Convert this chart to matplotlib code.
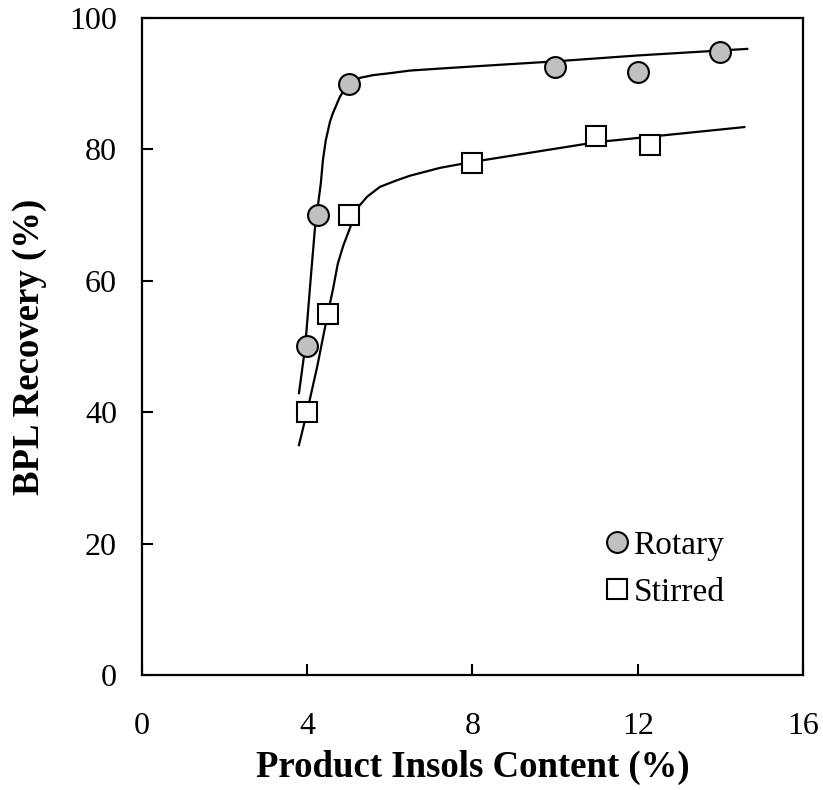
import matplotlib.pyplot as plt

plt.rcParams['font.family'] = ['Liberation Serif', 'DejaVu Serif']

# measured points
rotary_x = [4.0, 4.25, 5.0, 10.0, 12.0, 14.0]
rotary_y = [50, 70, 90, 92.5, 91.8, 94.8]
stirred_x = [4.0, 4.5, 5.0, 8.0, 11.0, 12.3]
stirred_y = [40, 55, 70, 78, 82, 80.7]

# fitted curves
rotary_fit_x = [3.80, 3.95, 4.08, 4.20, 4.26, 4.33, 4.38, 4.45, 4.55, 4.62, 4.79, 4.99,
                5.28, 5.59, 6.0, 6.49, 7.2, 8.2, 10.0, 12.0, 14.65]
rotary_fit_y = [42.9, 49.9, 60.0, 69.0, 71.5, 74.9, 78.4, 81.4, 84.2, 85.5, 88.0, 90.0,
                90.9, 91.3, 91.6, 92.0, 92.3, 92.7, 93.4, 94.3, 95.3]
stirred_fit_x = [3.80, 3.99, 4.24, 4.50, 4.62, 4.74, 4.87, 5.08, 5.23, 5.45, 5.76,
                 6.17, 6.49, 7.22, 8.0, 11.0, 14.58]
stirred_fit_y = [35.0, 39.9, 46.9, 55.1, 58.6, 62.6, 65.3, 68.8, 71.2, 72.8, 74.3,
                 75.3, 76.0, 77.2, 78.1, 81.1, 83.4]

fig = plt.figure(figsize=(8.23, 7.9), dpi=100)
ax = fig.add_axes([0.1725, 0.1456, 0.8032, 0.8316])

ax.plot(rotary_fit_x, rotary_fit_y, color='black', lw=1.6, solid_joinstyle='round')
ax.plot(stirred_fit_x, stirred_fit_y, color='black', lw=1.6, solid_joinstyle='round')
ax.plot(rotary_x, rotary_y, 'o', ms=15, mfc='#c0c0c0', mec='black', mew=1.5,
        ls='none', label='Rotary')
ax.plot(stirred_x, stirred_y, 's', ms=14, mfc='white', mec='black', mew=1.5,
        ls='none', label='Stirred')

ax.set_xlim(0, 16)
ax.set_ylim(0, 100)
ax.set_xticks([0, 4, 8, 12, 16])
ax.set_yticks([0, 20, 40, 60, 80, 100])
ax.tick_params(direction='in', length=8, width=1.5, labelsize=23)
ax.tick_params(axis='y', pad=18)
ax.tick_params(axis='x', pad=27)
for s in ax.spines.values():
    s.set_linewidth(1.6)

ax.set_xlabel('Product Insols Content (%)', fontsize=26.5, fontweight='bold', labelpad=6)
ax.set_ylabel('BPL Recovery (%)', fontsize=26.5, fontweight='bold', labelpad=16)

ax.legend(loc='upper left', bbox_to_anchor=(0.698, 0.22), frameon=False,
          fontsize=24, handlelength=0.8, handletextpad=0.1, labelspacing=0.5,
          borderpad=0, borderaxespad=0)

fig.savefig('out.png', dpi=100)
